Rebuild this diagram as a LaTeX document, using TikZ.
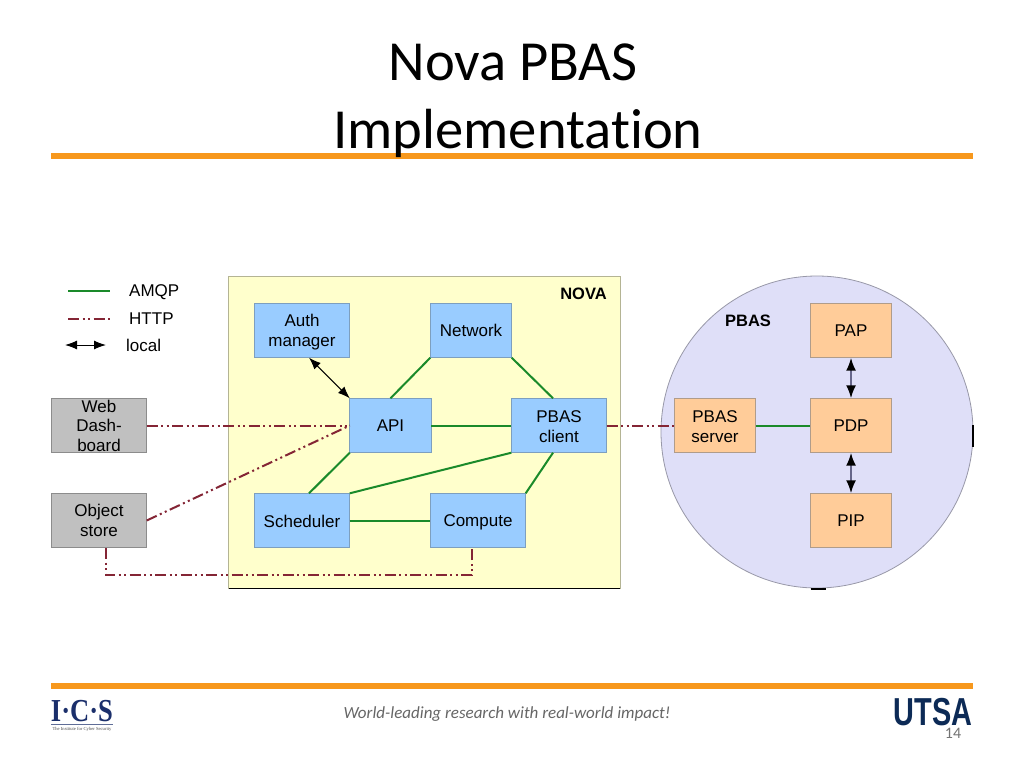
\documentclass[tikz,border=0pt]{standalone}
\usepackage{fontspec}
\setmainfont{Liberation Sans}
\newfontfamily\carlito[Ligatures=CommonOff]{Carlito}
\newfontfamily\serifb{Liberation Serif}
\usetikzlibrary{arrows.meta}
\definecolor{bluebox}{HTML}{99CCFF}
\definecolor{bluedge}{HTML}{7D9FBF}
\definecolor{orbox}{HTML}{FFCC99}
\definecolor{oredge}{HTML}{B09C8A}
\definecolor{grbox}{HTML}{C0C0C0}
\definecolor{gredge}{HTML}{8C8C8C}
\definecolor{novabg}{HTML}{FFFFCC}
\definecolor{novaedge}{HTML}{B4B494}
\definecolor{pbasbg}{HTML}{DFDFF8}
\definecolor{pbasedge}{HTML}{9898A8}
\definecolor{rulecol}{HTML}{F7981D}
\definecolor{amqpc}{HTML}{1A8A2A}
\definecolor{httpc}{HTML}{842535}
\definecolor{navy}{HTML}{1B2F6B}
\definecolor{utsa}{HTML}{0C2A56}
\definecolor{localc}{HTML}{66668A}
\newcommand\lowr[1]{\rule{0pt}{#1pt}}
\tikzset{
 x=1pt,y=-1pt,
 box/.style={draw,line width=.7pt,inner sep=0pt,outer sep=0pt,align=center,font=\fontsize{17}{19.5}\selectfont,minimum height=54.4pt},
 bluenode/.style={box,fill=bluebox,draw=bluedge},
 ornode/.style={box,fill=orbox,draw=oredge,minimum width=81.4pt},
 grnode/.style={box,fill=grbox,draw=gredge,minimum width=95.4pt},
 wide/.style={minimum width=95.4pt},
 narrow/.style={minimum width=81.4pt},
 amqp/.style={amqpc,line width=2pt},
 http/.style={httpc,line width=2pt,dash pattern=on 11pt off 3.5pt on 2pt off 3.5pt on 2pt off 3.5pt},
 localarrow/.style={black,line width=1pt,{Latex[length=12pt,width=9pt]}-{Latex[length=12pt,width=9pt]}},
 localv/.style={draw=localc,line width=2pt,{Latex[length=13pt,width=10pt,black]}-{Latex[length=13pt,width=10pt,black]}},
 rulebar/.style={fill=rulecol,draw=none},
 legendtxt/.style={inner sep=0pt,anchor=west,font=\fontsize{17}{19}\selectfont},
 grouptxt/.style={inner sep=0pt,font=\bfseries\fontsize{16.5}{19}\selectfont},
}
\begin{document}
\begin{tikzpicture}
\useasboundingbox (0,0) rectangle (1024,768);
\fill[white] (0,0) rectangle (1024,768);
% rules
\path[rulebar] (51,153) rectangle (973,159);
\path[rulebar] (51,683) rectangle (973,689);
% title
\node[inner sep=0pt,align=center,font=\carlito\fontsize{56.6}{68}\selectfont] (title) at (518,101) {Nova PBAS\hspace*{10pt}\\Implementation};
% containers
\node[draw=novaedge,fill=novabg,line width=.8pt,minimum width=392pt,minimum height=312pt,inner sep=0pt,outer sep=0pt] (nova) at (424,432) {};
\draw[black,line width=1.5pt] (229,588.5) -- (620,588.5);
\node[circle,draw=pbasedge,fill=pbasbg,line width=.8pt,minimum size=312pt,inner sep=0pt,outer sep=0pt] (pbas) at (817,432) {};
\fill[black] (811,587.5) rectangle (826,589.5);
\fill[black] (972,425) rectangle (974,447);
\node[grouptxt] (novalabel) at (583.5,293.5) {NOVA};
\node[grouptxt] (pbaslabel) at (748,320.5) {PBAS};
% nova nodes
\node[bluenode,wide] (auth) at (302,330.5) {\lowr{16}Auth\\manager};
\node[bluenode,narrow] (network) at (471,330.5) {Network};
\node[bluenode,narrow] (api) at (390.5,425.5) {API};
\node[bluenode,wide] (client) at (559,425.5) {\lowr{14}PBAS\\client};
\node[bluenode,wide] (sched) at (302,520.5) {\lowr{15}Scheduler};
\node[bluenode,wide] (compute) at (478,520.5) {\lowr{15}Compute};
% externals
\node[grnode] (web) at (99,425.5) {Web\\Dash-\\board};
\node[grnode] (object) at (99,520.5) {Object\\store};
% pbas nodes
\node[ornode] (server) at (715,425.5) {\lowr{14}PBAS\\server};
\node[ornode] (pap) at (851,330.5) {PAP};
\node[ornode] (pdp) at (851,425.5) {PDP};
\node[ornode] (pip) at (851,520.5) {PIP};
% legend
\coordinate (la1) at (68,291); \coordinate (la2) at (110,291);
\coordinate (lh1) at (68,318.5); \coordinate (lh2) at (110,318.5);
\coordinate (ll1) at (65,345); \coordinate (ll2) at (106,345);
\draw[amqp] (la1) -- (la2);
\draw[http] (lh1) -- (lh2);
\draw[localarrow] (ll1) -- (ll2);
\node[legendtxt] (lamqp) at (129,292) {AMQP};
\node[legendtxt] (lhttp) at (129,318.5) {HTTP};
\node[legendtxt] (llocal) at (126,345) {local};
% amqp connectors
\draw[amqp] (api.north) -- (network.south west);
\draw[amqp] (network.south east) -- ([xshift=-6pt]client.north);
\draw[amqp] (api.east) -- (client.west);
\draw[amqp] (api.south west) -- ([xshift=7pt]sched.north);
\draw[amqp] (sched.north east) -- (client.south west);
\draw[amqp] (compute.north east) -- ([xshift=-6pt]client.south);
\draw[amqp] (sched.east) -- (compute.west);
\draw[amqp] (server.east) -- (pdp.west);
% http connectors
\coordinate (objb) at (105.5,548);
\coordinate (compb) at (471.5,548);
\draw[http] (web.east) -- (api.west);
\draw[http] (object.east) -- (api.west);
\draw[http] (objb) -- (105.5,575) -- (471.5,575) -- (compb);
\draw[http] (client.east) -- (server.west);
% local connectors
\draw[localarrow] ([xshift=7pt]auth.south) -- (api.north west);
\draw[localv] (pap.south) -- (pdp.north);
\draw[localv] (pdp.south) -- (pip.north);
% footer
\node[inner sep=0pt,text=black!60,font=\carlito\itshape\fontsize{17}{20}\selectfont] (slogan) at (507,714) {World-leading research with real-world impact!};
\node[inner sep=0pt,text=navy,font=\serifb\bfseries\fontsize{32}{32}\selectfont,xscale=.83] (ics) at (82,711) {I·C·S};
\fill[navy!70] (51,724) rectangle (113,725);
\node[inner sep=0pt,text=black!70,font=\serifb\fontsize{4.6}{5}\selectfont] (icssub) at (82,729) {The Institute for Cyber Security};
\node[inner sep=0pt,text=utsa,font=\bfseries\fontsize{39}{39}\selectfont,xscale=.74] (utsa) at (933,712.5) {UTSA};
\node[inner sep=0pt,text=black!55,font=\carlito\fontsize{16}{18}\selectfont] (page) at (953,733) {14};
\end{tikzpicture}
\end{document}
